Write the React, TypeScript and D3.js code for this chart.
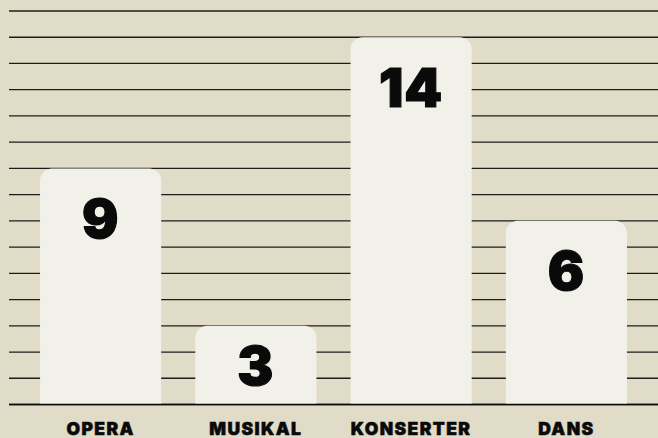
import React from "react";
import * as d3 from "d3";

const categories = ["OPERA", "MUSIKAL", "KONSERTER", "DANS"];
// bar heights as drawn in the picture
const values = [9, 3, 14, 7];
// numbers printed on the bars
const valueLabels = ["9", "3", "14", "6"];
const gridValues = d3.range(0, 16);

const W = 658;
const H = 438;
const M = { left: 9, right: 0, top: 11, bottom: 33 };

function topRoundedRect(x: number, y: number, w: number, h: number, r: number) {
  const rr = Math.min(r, h, w / 2);
  const p = d3.path();
  p.moveTo(x, y + h);
  p.lineTo(x, y + rr);
  p.arcTo(x, y, x + rr, y, rr);
  p.lineTo(x + w - rr, y);
  p.arcTo(x + w, y, x + w, y + rr, rr);
  p.lineTo(x + w, y + h);
  p.closePath();
  return p.toString();
}

export default function App() {
  const x = d3
    .scaleBand<string>()
    .domain(categories)
    .range([M.left, W - M.right])
    .paddingInner(0.22)
    .paddingOuter(0.2);
  const baseY = H - M.bottom - 0.5;
  const y = d3.scaleLinear().domain([0, 15]).range([baseY, M.top]);

  return (
    <div style={{ position: "fixed", left: 0, top: 0, width: W, height: H }}>
      <svg width={W} height={H} style={{ display: "block" }}>
        <rect x={0} y={0} width={W} height={H} fill="#e1dcc8" />
        {gridValues.map((v) => (
          <line
            key={v}
            x1={M.left}
            x2={W}
            y1={y(v)}
            y2={y(v)}
            stroke="#1c1c1c"
            strokeWidth={1.3}
          />
        ))}
        {categories.map((c, i) => {
          const bx = x(c)!;
          const by = y(values[i]);
          const bh = y(0) - by;
          const ly = Math.min(by + 50, by + bh / 2);
          return (
            <g key={c}>
              <path d={topRoundedRect(bx, by, x.bandwidth(), bh, 12)} fill="#f2f1e9" />
              <text
                x={bx + x.bandwidth() / 2}
                y={ly}
                textAnchor="middle"
                dominantBaseline="central"
                fontFamily="Inter, 'DejaVu Sans', sans-serif"
                fontWeight={900}
                fontSize={54}
                letterSpacing={1}
                fill="#0a0a0a"
                stroke="#0a0a0a"
                strokeWidth={1.2}
              >
                {valueLabels[i]}
              </text>
              <text
                x={bx + x.bandwidth() / 2}
                y={435}
                textAnchor="middle"
                fontFamily="Inter, 'DejaVu Sans', sans-serif"
                fontWeight={900}
                fontSize={17.5}
                letterSpacing={1.4}
                fill="#0a0a0a"
                stroke="#0a0a0a"
                strokeWidth={0.5}
              >
                {c}
              </text>
            </g>
          );
        })}
        <line x1={M.left} x2={W} y1={y(0)} y2={y(0)} stroke="#0a0a0a" strokeWidth={1.5} />
      </svg>
    </div>
  );
}
